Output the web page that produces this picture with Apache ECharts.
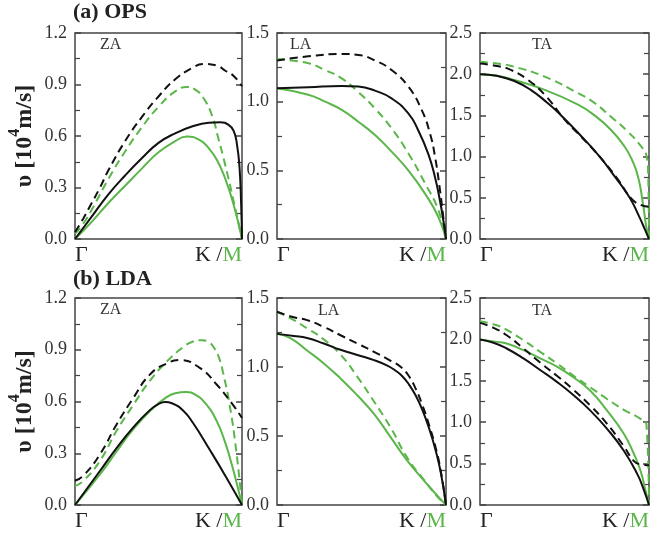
<!DOCTYPE html>
<html>
<head>
<meta charset="utf-8">
<script src="https://cdn.jsdelivr.net/npm/echarts@6/dist/echarts.min.js"></script>
<style>html,body{margin:0;padding:0;background:#fff}#c{width:663px;height:537px}</style>
</head>
<body>
<div id="c"></div>
<script>
// ---------- DATA (x: fraction of path Γ -> K/M, y: velocity in 10^4 m/s) ----------
// (a) OPS  ZA
const opsZA_blackSolid = [[0,0],[0.1,0.13],[0.2,0.26],[0.3,0.37],[0.4,0.47],[0.5,0.56],[0.6,0.615],[0.7,0.655],[0.8,0.677],[0.87,0.68],[0.92,0.665],[0.95,0.63],[0.97,0.55],[0.985,0.42],[0.995,0.2],[1,0]];
const opsZA_blackDash  = [[0,0.04],[0.05,0.12],[0.1,0.21],[0.15,0.3],[0.2,0.4],[0.3,0.57],[0.4,0.71],[0.5,0.83],[0.6,0.93],[0.7,0.995],[0.77,1.02],[0.85,1.01],[0.9,0.98],[0.95,0.95],[1,0.89]];
const opsZA_greenSolid = [[0,0],[0.1,0.10],[0.2,0.21],[0.3,0.31],[0.4,0.41],[0.5,0.505],[0.6,0.57],[0.67,0.597],[0.75,0.575],[0.8,0.53],[0.85,0.46],[0.9,0.35],[0.95,0.2],[1,0]];
const opsZA_greenDash  = [[0,0.03],[0.05,0.09],[0.1,0.17],[0.2,0.35],[0.3,0.51],[0.4,0.65],[0.5,0.77],[0.6,0.86],[0.67,0.885],[0.72,0.87],[0.77,0.82],[0.82,0.72],[0.86,0.58],[0.9,0.43],[0.95,0.22],[1,0]];
// (a) OPS  LA
const opsLA_blackSolid = [[0,1.097],[0.185,1.105],[0.383,1.114],[0.481,1.11],[0.58,1.08],[0.678,1.024],[0.777,0.915],[0.836,0.79],[0.895,0.62],[0.935,0.45],[0.964,0.28],[0.985,0.13],[1,0]];
const opsLA_blackDash  = [[0,1.30],[0.185,1.33],[0.383,1.347],[0.481,1.34],[0.58,1.30],[0.678,1.23],[0.777,1.11],[0.856,0.94],[0.905,0.77],[0.935,0.60],[0.964,0.36],[0.984,0.16],[1,0]];
const opsLA_greenSolid = [[0,1.097],[0.185,1.05],[0.284,1.0],[0.383,0.94],[0.481,0.854],[0.58,0.757],[0.678,0.636],[0.777,0.50],[0.876,0.33],[0.955,0.16],[1,0]];
const opsLA_greenDash  = [[0,1.31],[0.185,1.28],[0.284,1.23],[0.383,1.17],[0.481,1.07],[0.58,0.95],[0.678,0.806],[0.777,0.624],[0.876,0.405],[0.955,0.21],[1,0]];
// (a) OPS  TA
const opsTA_blackSolid = [[0,2.0],[0.1,1.98],[0.2,1.92],[0.3,1.81],[0.4,1.65],[0.47,1.52],[0.58,1.29],[0.708,1.0],[0.8,0.75],[0.886,0.5],[0.94,0.28],[0.975,0.12],[1,0]];
const opsTA_blackDash  = [[0,2.13],[0.1,2.10],[0.185,2.05],[0.284,1.93],[0.383,1.75],[0.505,1.44],[0.58,1.28],[0.708,1.0],[0.817,0.72],[0.896,0.49],[0.955,0.41],[1,0.39]];
const opsTA_greenSolid = [[0,2.0],[0.1,1.98],[0.185,1.94],[0.383,1.81],[0.58,1.63],[0.678,1.50],[0.777,1.32],[0.856,1.12],[0.895,0.98],[0.935,0.76],[0.964,0.43],[0.984,0.15],[1,0]];
const opsTA_greenDash  = [[0,2.15],[0.1,2.13],[0.185,2.10],[0.383,1.97],[0.58,1.77],[0.678,1.65],[0.777,1.48],[0.876,1.30],[0.955,1.12],[0.984,1.02],[0.995,0.8],[1,0]];
// (b) LDA  ZA
const ldaZA_blackSolid = [[0,0],[0.149,0.197],[0.249,0.33],[0.349,0.45],[0.448,0.55],[0.5,0.585],[0.54,0.597],[0.58,0.59],[0.65,0.545],[0.707,0.475],[0.807,0.32],[0.906,0.16],[1,0]];
const ldaZA_blackDash  = [[0,0.14],[0.05,0.17],[0.149,0.293],[0.249,0.467],[0.349,0.62],[0.448,0.756],[0.548,0.82],[0.627,0.84],[0.747,0.795],[0.847,0.70],[0.946,0.58],[1,0.505]];
const ldaZA_greenSolid = [[0,0],[0.149,0.177],[0.249,0.31],[0.349,0.44],[0.448,0.544],[0.548,0.625],[0.6,0.648],[0.667,0.655],[0.72,0.64],[0.78,0.59],[0.847,0.49],[0.9,0.36],[0.94,0.23],[0.97,0.12],[1,0]];
const ldaZA_greenDash  = [[0,0.11],[0.05,0.14],[0.149,0.255],[0.249,0.43],[0.349,0.58],[0.448,0.72],[0.548,0.83],[0.647,0.915],[0.7,0.945],[0.76,0.955],[0.8,0.945],[0.83,0.915],[0.86,0.86],[0.886,0.77],[0.926,0.58],[0.966,0.31],[1,0]];
// (b) LDA  LA
const ldaLA_blackSolid = [[0,1.24],[0.1,1.225],[0.178,1.21],[0.277,1.17],[0.376,1.125],[0.475,1.087],[0.574,1.05],[0.653,1.01],[0.7,0.975],[0.74,0.935],[0.78,0.875],[0.82,0.795],[0.86,0.69],[0.9,0.555],[0.94,0.39],[0.97,0.23],[1,0]];
const ldaLA_blackDash  = [[0,1.40],[0.1,1.36],[0.178,1.34],[0.277,1.29],[0.376,1.23],[0.475,1.17],[0.574,1.11],[0.673,1.045],[0.733,1.0],[0.78,0.935],[0.82,0.845],[0.86,0.725],[0.9,0.58],[0.94,0.41],[0.97,0.24],[1,0]];
const ldaLA_greenSolid = [[0,1.24],[0.079,1.21],[0.178,1.12],[0.277,1.026],[0.376,0.917],[0.475,0.795],[0.574,0.66],[0.673,0.49],[0.772,0.32],[0.871,0.175],[0.95,0.066],[1,0]];
const ldaLA_greenDash  = [[0,1.40],[0.079,1.354],[0.178,1.28],[0.277,1.20],[0.376,1.09],[0.475,0.93],[0.574,0.75],[0.673,0.56],[0.772,0.34],[0.871,0.18],[0.95,0.06],[1,0]];
// (b) LDA  TA
const ldaTA_blackSolid = [[0,2.0],[0.08,1.96],[0.158,1.89],[0.257,1.77],[0.356,1.63],[0.455,1.487],[0.554,1.325],[0.653,1.14],[0.752,0.92],[0.851,0.656],[0.931,0.373],[0.97,0.18],[1,0]];
const ldaTA_blackDash  = [[0,2.2],[0.08,2.14],[0.158,2.05],[0.257,1.89],[0.356,1.72],[0.455,1.56],[0.554,1.39],[0.653,1.2],[0.752,0.98],[0.851,0.71],[0.911,0.53],[0.95,0.49],[1,0.48]];
const ldaTA_greenSolid = [[0,2.0],[0.1,1.97],[0.158,1.95],[0.257,1.87],[0.356,1.77],[0.455,1.67],[0.554,1.54],[0.653,1.38],[0.752,1.14],[0.851,0.86],[0.911,0.616],[0.95,0.413],[0.98,0.17],[1,0]];
const ldaTA_greenDash  = [[0,2.22],[0.1,2.17],[0.158,2.115],[0.257,1.99],[0.356,1.85],[0.455,1.71],[0.554,1.56],[0.653,1.42],[0.752,1.28],[0.851,1.15],[0.95,1.04],[0.985,0.97],[1,0]];

// axis ranges / tick labels
const yMaxZA = 1.2, yStepZA = 0.3;
const yMaxLA = 1.5, yStepLA = 0.5;
const yMaxTA = 2.5, yStepTA = 0.5;
const xTickLabels = ['Γ', 'K /', 'M'];
const panelTitles = ['(a) OPS', '(b) LDA'];
const modeNames = ['ZA', 'LA', 'TA'];
const yNameParts = ['υ [10', '4', 'm/s]'];

// ---------- CHART ----------
const FONT = '"Liberation Serif", "Times New Roman", serif';
const BLACK = '#111111';
const GREEN = '#5bb64a';
const AX = '#444444';

const panels = [
  {d:[opsZA_blackSolid, opsZA_blackDash, opsZA_greenSolid, opsZA_greenDash], max:yMaxZA, step:yStepZA},
  {d:[opsLA_blackSolid, opsLA_blackDash, opsLA_greenSolid, opsLA_greenDash], max:yMaxLA, step:yStepLA},
  {d:[opsTA_blackSolid, opsTA_blackDash, opsTA_greenSolid, opsTA_greenDash], max:yMaxTA, step:yStepTA},
  {d:[ldaZA_blackSolid, ldaZA_blackDash, ldaZA_greenSolid, ldaZA_greenDash], max:yMaxZA, step:yStepZA},
  {d:[ldaLA_blackSolid, ldaLA_blackDash, ldaLA_greenSolid, ldaLA_greenDash], max:yMaxLA, step:yStepLA},
  {d:[ldaTA_blackSolid, ldaTA_blackDash, ldaTA_greenSolid, ldaTA_greenDash], max:yMaxTA, step:yStepTA}
];

const gridPos = [
  {left:75, top:33, width:167, height:206},
  {left:277, top:33, width:169, height:206},
  {left:480, top:33, width:169, height:206},
  {left:75, top:298, width:167, height:207},
  {left:277, top:298, width:169, height:207},
  {left:480, top:298, width:169, height:207}
];

const grid = [], xAxis = [], yAxis = [], series = [];
panels.forEach((p, i) => {
  grid.push(Object.assign({show:true, borderColor:AX, borderWidth:1.5, backgroundColor:'transparent'}, gridPos[i]));
  xAxis.push({
    gridIndex:i, type:'value', min:0, max:1, interval:1,
    axisLine:{show:false}, axisTick:{show:false}, splitLine:{show:false},
    axisLabel:{
      margin:5, fontFamily:FONT, fontSize:22, color:'#222',
      alignMinLabel:'left', alignMaxLabel:'right',
      formatter:(v)=> v===0 ? '{k|'+xTickLabels[0]+'}' : '{k|'+xTickLabels[1]+'}{m|'+xTickLabels[2]+'}',
      rich:{k:{fontFamily:FONT, fontSize:22, color:'#222'}, m:{fontFamily:FONT, fontSize:22, color:GREEN}}
    }
  });
  const common = {
    gridIndex:i, type:'value', min:0, max:p.max, interval:p.step,
    axisLine:{show:false}, splitLine:{show:false},
    axisTick:{show:true, inside:true, length:6, lineStyle:{color:AX, width:1.5}},
    minorTick:{show:true, splitNumber:2, length:5, lineStyle:{color:AX, width:1.2}}
  };
  const left = Object.assign({}, common, {
    position:'left',
    axisLabel:{margin:8, fontFamily:FONT, fontSize:18, color:'#333', formatter:(v)=>v.toFixed(1)}
  });
  if (i % 3 === 0) {
    left.name = '{a|'+yNameParts[0]+'}{s|'+yNameParts[1]+'}{a|'+yNameParts[2]+'}';
    left.nameLocation = 'middle';
    left.nameRotate = 90;
    left.nameGap = 38;
    left.nameTextStyle = {
      rich:{
        a:{fontFamily:FONT, fontSize:24, fontWeight:'bold', color:'#222', lineHeight:30, verticalAlign:'bottom'},
        s:{fontFamily:FONT, fontSize:16, fontWeight:'bold', color:'#222', lineHeight:30, verticalAlign:'top'}
      }
    };
  }
  yAxis.push(left);
  yAxis.push(Object.assign({}, common, {position:'right', axisLabel:{show:false}}));
  const styles = [
    {color:BLACK, type:'solid'}, {color:BLACK, type:[8,5]},
    {color:GREEN, type:'solid'}, {color:GREEN, type:[8,5]}
  ];
  p.d.forEach((arr, k) => {
    series.push({
      type:'line', xAxisIndex:i, yAxisIndex:2*i, data:arr,
      showSymbol:false, smooth:0.5, silent:true, animation:false, clip:true,
      lineStyle:{color:styles[k].color, type:styles[k].type, width:2},
      z: k < 2 ? 3 : 2
    });
  });
});

const graphic = [];
const labelPos = [[100,37],[290,37],[532,37],[100,302],[318,303],[532,303]];
labelPos.forEach((pos, i) => {
  graphic.push({type:'text', left:pos[0], top:pos[1], silent:true,
    style:{text:modeNames[i%3], fontFamily:FONT, fontSize:16, fill:'#333'}});
});
graphic.push({type:'text', left:73, top:1, style:{text:panelTitles[0], fontFamily:FONT, fontSize:22, fontWeight:'bold', fill:'#222'}});
graphic.push({type:'text', left:73, top:268, style:{text:panelTitles[1], fontFamily:FONT, fontSize:22, fontWeight:'bold', fill:'#222'}});

const chart = echarts.init(document.getElementById('c'), null, {renderer:'canvas'});
chart.setOption({animation:false, backgroundColor:'#fff', grid, xAxis, yAxis, series, graphic});
</script>
</body>
</html>
